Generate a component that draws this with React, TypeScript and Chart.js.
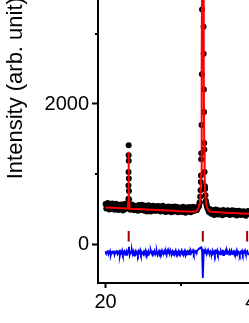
import React, { useEffect, useRef } from 'react';
import { Chart, registerables } from 'chart.js';

Chart.register(...registerables);

// Observed pattern on a regular 2-theta grid (20.0 .. 39.0, step 0.1)
const obsStart = 20;
const obsStep = 0.1;
const obsCounts = [
  575, 512, 548, 590, 530, 497, 561, 542, 508, 583,
  521, 566, 495, 540, 578, 513, 552, 489, 560, 531,
  570, 506, 538, 483, 552, 574, 500, 541, 519, 563,
  600, 760, 548, 493, 536, 567, 505, 530, 488, 551,
  506, 548, 530, 478, 560, 515, 495, 541, 566, 487,
  527, 553, 480, 512, 545, 470, 533, 556, 498, 520,
  468, 540, 512, 551, 490, 526, 475, 544, 503, 532,
  548, 481, 514, 467, 539, 505, 550, 472, 520, 498,
  462, 530, 509, 541, 476, 497, 525, 458, 536, 490,
  515, 470, 540, 487, 505, 531, 459, 498, 527, 482,
  520, 463, 499, 535, 478, 510, 452, 527, 490, 506,
  470, 531, 492, 458, 515, 500, 536, 474, 512, 495,
  528, 486, 520, 530, 548, 600, 770, 1300, 3347, 15500,
  3100, 1350, 790, 620, 560, 520, 498, 462, 505, 470,
  438, 491, 455, 476, 420, 468, 497, 443, 460, 426,
  485, 447, 430, 474, 458, 415, 490, 462, 436, 471,
  428, 466, 485, 440, 455, 419, 472, 447, 486, 431,
  460, 425, 478, 443, 412, 468, 452, 480, 428, 457,
  418, 465, 440, 472, 431, 455, 409, 462, 445, 476,
  437,
];

// Difference curve (obs - calc, shifted) on the same grid
const diffCounts = [
  -98, -132, -110, -85, -140, -118, -95, -150, -112, -104,
  -128, -90, -145, -108, -120, -82, -135, -115, -100, -158,
  -106, -125, -88, -140, -113, -97, -150, -120, -92, -130,
  -100, -35, -148, -110, -125, -86, -138, -104, -160, -115,
  -93, -130, -112, -147, -99, -120, -84, -136, -108, -125,
  -140, -102, -118, -90, -155, -113, -128, -96, -133, -110,
  -87, -124, -146, -105, -118, -92, -139, -115, -101, -150,
  -120, -95, -131, -108, -143, -89, -116, -127, -98, -135,
  -111, -149, -94, -122, -105, -137, -86, -118, -129, -100,
  -134, -107, -120, -91, -145, -112, -126, -97, -139, -108,
  -117, -88, -132, -110, -124, -95, -150, -106, -121, -99,
  -127, -103, -141, -92, -118, -109, -85, -130, -98, -112,
  -95, -108, -80, -72, -60, -52, -45, -40, -70, -480,
  -150, -98, -125, -105, -138, -94, -120, -110, -143, -100,
  -119, -131, -90, -126, -108, -147, -97, -115, -85, -134,
  -106, -122, -140, -93, -117, -102, -152, -111, -128, -96,
  -133, -88, -119, -107, -145, -100, -124, -91, -137, -113,
  -98, -142, -110, -126, -87, -135, -104, -118, -150, -109,
  -121, -94, -138, -103, -116, -89, -130, -112, -97, -141,
  -118,
];

// Extra observed points on the peak flanks
const peakObsX = [23.07, 23.06, 23.08, 23.05, 23.09, 23.04, 23.035, 23.11,
  32.86, 32.94, 33.015, 32.775, 33.04, 33.055, 32.73, 33.085, 32.685, 33.135, 32.635, 33.18,
  32.45, 32.55, 32.65, 33.25, 33.35, 33.45];
const peakObsY = [1412, 1270, 1190, 1030, 940, 840, 650, 640,
  6500, 7200, 2717, 2422, 2205, 1886, 1700, 1445, 1213, 1030, 890, 830,
  590, 680, 980, 700, 590, 545];

// Calculated profile
const calcX = [20, 21, 22, 22.87, 22.97, 23.02, 23.04, 23.055, 23.07, 23.085, 23.1, 23.12, 23.17, 23.27,
  24, 25, 26, 27, 28, 29, 30, 31, 31.6, 31.9, 32.15, 32.3, 32.45, 32.525, 32.6, 32.66, 32.72, 32.78, 32.84,
  32.9, 32.96, 33.02, 33.08, 33.14, 33.2, 33.275, 33.35, 33.5, 33.65, 33.9, 34.5, 35, 36, 37, 38, 39, 40];
const calcY = [526, 521, 515, 511, 527, 610, 800, 1100, 1320, 1100, 800, 610, 525, 509,
  505, 500, 494, 489, 484, 478, 473, 468, 466, 468, 485, 515, 575, 635, 755, 995, 1495, 2495, 4995,
  16000, 4995, 2495, 1495, 995, 755, 635, 575, 515, 485, 464, 461, 457, 451, 446, 440, 435, 431];

// Bragg reflection positions
const braggPos = [23.07, 32.9, 38.78];
const braggLow = 40;
const braggHigh = 190;

const xMajorTicks = [20, 40, 60, 80];
const xMinorTicks = [30, 50, 70];
const yMajorTicks = [0, 2000, 4000];
const yMinorTicks = [1000, 3000, 5000];

const FONT = "'Liberation Sans', Arial, Helvetica, sans-serif";

const minorTicksPlugin = {
  id: 'minorTicks',
  afterDraw(chart: any) {
    const { ctx, chartArea, scales } = chart;
    ctx.save();
    ctx.strokeStyle = '#000';
    ctx.lineWidth = 2;
    yMinorTicks.forEach((v) => {
      const py = Math.round(scales.y.getPixelForValue(v));
      if (py < chartArea.top - 1 || py > chartArea.bottom + 1) return;
      ctx.beginPath();
      ctx.moveTo(chartArea.left - 3, py);
      ctx.lineTo(chartArea.left, py);
      ctx.stroke();
    });
    xMinorTicks.forEach((v) => {
      const px = Math.round(scales.x.getPixelForValue(v));
      if (px < chartArea.left - 1 || px > chartArea.right + 1) return;
      ctx.beginPath();
      ctx.moveTo(px, chartArea.bottom);
      ctx.lineTo(px, chartArea.bottom + 3);
      ctx.stroke();
    });
    ctx.restore();
  },
};

export default function App() {
  const ref = useRef<HTMLCanvasElement | null>(null);

  useEffect(() => {
    if (!ref.current) return;
    const obsData = obsCounts.map((y, i) => ({ x: +(obsStart + i * obsStep).toFixed(2), y }));
    const peakData = peakObsX.map((x, i) => ({ x, y: peakObsY[i] }));
    const diffData = diffCounts.map((y, i) => ({ x: +(obsStart + i * obsStep).toFixed(2), y }));
    const calcData = calcX.map((x, i) => ({ x, y: calcY[i] }));
    const braggData: any[] = [];
    braggPos.forEach((p) => {
      braggData.push({ x: p, y: braggLow }, { x: p, y: braggHigh }, { x: p, y: null });
    });

    const chart = new Chart(ref.current, {
      type: 'line',
      data: {
        datasets: [
          {
            label: 'calc',
            data: calcData,
            borderColor: '#ff0000',
            borderWidth: 2,
            pointRadius: 0,
            tension: 0,
          },
          {
            label: 'obs',
            data: [...obsData, ...peakData],
            showLine: false,
            pointRadius: 3,
            pointBorderWidth: 0,
            pointBackgroundColor: '#000',
            pointBorderColor: '#000',
          },
          {
            label: 'bragg',
            data: braggData,
            borderColor: '#990000',
            borderWidth: 2,
            pointRadius: 0,
            spanGaps: false,
          },
          {
            label: 'diff',
            data: diffData,
            borderColor: '#0000ff',
            borderWidth: 1.9,
            pointRadius: 0,
            tension: 0,
          },
        ],
      },
      options: {
        animation: false,
        responsive: false,
        devicePixelRatio: 1,
        layout: { padding: { top: 13.4, left: 0, right: 0, bottom: 0 } },
        plugins: { legend: { display: false }, tooltip: { enabled: false } },
        scales: {
          x: {
            type: 'linear',
            min: 19,
            max: 80,
            afterBuildTicks: (scale: any) => {
              scale.ticks = xMajorTicks.map((v) => ({ value: v }));
            },
            afterFit: (scale: any) => {
              scale.height = 40;
              scale.paddingLeft = 0;
              scale.paddingRight = 0;
            },
            ticks: {
              color: '#000',
              font: { family: FONT, size: 20 },
              padding: 2,
              maxRotation: 0,
              autoSkip: false,
              callback: (v: any) => String(v),
            },
            grid: {
              drawOnChartArea: false,
              drawTicks: true,
              tickLength: 5,
              tickWidth: 2,
              tickColor: '#000',
            },
            border: { display: true, color: '#000', width: 2 },
          },
          y: {
            type: 'linear',
            min: -550,
            max: 5000,
            afterBuildTicks: (scale: any) => {
              scale.ticks = yMajorTicks.map((v) => ({ value: v }));
            },
            afterFit: (scale: any) => {
              scale.width = 98;
              scale.paddingTop = 0;
              scale.paddingBottom = 0;
            },
            ticks: {
              color: '#000',
              font: { family: FONT, size: 20 },
              padding: 3,
              autoSkip: false,
              callback: (v: any) => String(v),
            },
            grid: {
              drawOnChartArea: false,
              drawTicks: true,
              tickLength: 6,
              tickWidth: 2,
              tickColor: '#000',
            },
            border: { display: true, color: '#000', width: 2 },
            title: {
              display: true,
              text: 'Intensity (arb. unit)',
              color: '#000',
              font: { family: FONT, size: 22 },
              padding: { top: 3, bottom: 0 },
            },
          },
        },
      },
      plugins: [minorTicksPlugin],
    } as any);

    return () => chart.destroy();
  }, []);

  return (
    <div
      style={{
        position: 'fixed',
        left: 0,
        top: 0,
        width: 249,
        height: 323,
        overflow: 'hidden',
        background: '#fff',
      }}
    >
      <canvas
        ref={ref}
        width={562}
        height={443}
        style={{ position: 'absolute', left: 0, top: -120, width: 562, height: 443 }}
      />
    </div>
  );
}
